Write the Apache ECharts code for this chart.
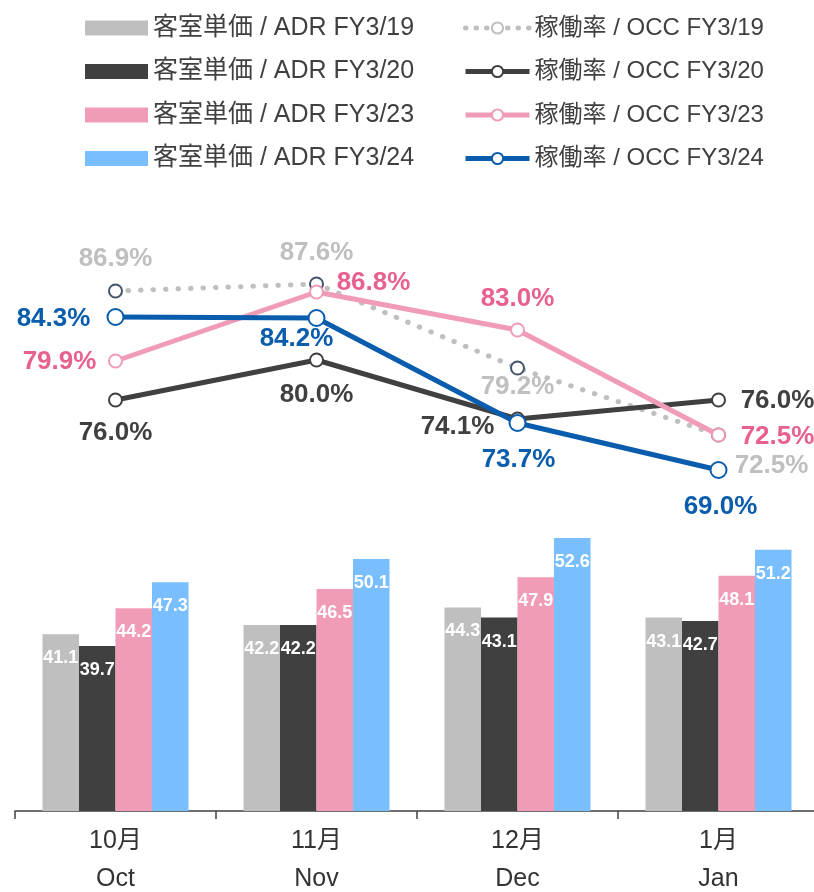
<!DOCTYPE html>
<html>
<head>
<meta charset="utf-8">
<script src="https://cdn.jsdelivr.net/npm/echarts@6/dist/echarts.min.js"></script>
<style>
html,body{margin:0;padding:0;background:#fff;}
#main{width:814px;height:892px;}
</style>
</head>
<body>
<div id="main"></div>
<script>
// months
var months = ['10月\nOct', '11月\nNov', '12月\nDec', '1月\nJan'];

// ADR (bars)
var adr19 = [41.1, 42.2, 44.3, 43.1];
var adr20 = [39.7, 42.2, 43.1, 42.7];
var adr23 = [44.2, 46.5, 47.9, 48.1];
var adr24 = [47.3, 50.1, 52.6, 51.2];

// OCC (lines, %)
var occ19 = [86.9, 87.6, 79.2, 72.5];
var occ20 = [76.0, 80.0, 74.1, 76.0];
var occ23 = [79.9, 86.8, 83.0, 72.5];
var occ24 = [84.3, 84.2, 73.7, 69.0];

var FONT = "'Liberation Sans','Noto Sans CJK JP',sans-serif";

// label offsets for each line point (from point centre)
var off19 = [[0,-32],[0,-31],[0,19],[53,31]];
var off20 = [[0,33],[0,35],[-60,8],[59,1]];
var off23 = [[-56,1],[57,-9],[0,-31],[59,2]];
var off24 = [[-62,2],[-20,21],[1,37],[2,37]];

function lineData(vals, offs, color){
  var out = [];
  for (var i = 0; i < vals.length; i++) {
    out.push({
      value: vals[i],
      label: {show:true, position:'inside', offset:offs[i], color:color,
        fontSize:26, fontWeight:'bold', fontFamily:FONT,
        formatter: function(p){ return p.value.toFixed(1) + '%'; }}
    });
  }
  return out;
}

function barSeries(name, data, color){
  return {
    name: name, type: 'bar', xAxisIndex: 0, yAxisIndex: 0,
    data: data, barWidth: 36.5, barGap: '0%',
    itemStyle: {color: color},
    label: {show:true, position:'insideTop', distance:15, color:'#fff',
      fontSize:18, fontWeight:'bold', fontFamily:FONT,
      formatter: function(p){ return p.value.toFixed(1); }}
  };
}

function lineSeries(name, data, color, width, symSize, border, z){
  return {
    name: name, type: 'line', xAxisIndex: 1, yAxisIndex: 1,
    data: data, z: z,
    symbol: 'circle', symbolSize: symSize,
    lineStyle: {color: color, width: width},
    itemStyle: {color:'#fff', borderColor: border, borderWidth: 2},
    emphasis: {disabled:true}
  };
}

var myChart = echarts.init(document.getElementById('main'));

var s19 = lineSeries('稼働率 / OCC FY3/19', lineData(occ19, off19, '#bfbfbf'), '#bfbfbf', 5, 13, '#44546a', 2);
s19.lineStyle.type = [0.5, 12];
s19.lineStyle.cap = 'round';

var option = {
  animation: false,
  textStyle: {fontFamily: FONT},
  legend: [
    {
      left: 80, top: 9, orient: 'vertical', itemWidth: 63, itemHeight: 15, itemGap: 15.5,
      icon: 'rect',
      textStyle: {fontSize: 25, lineHeight: 28, color: '#404040', fontFamily: FONT},
      data: ['客室単価 / ADR FY3/19','客室単価 / ADR FY3/20','客室単価 / ADR FY3/23','客室単価 / ADR FY3/24']
    },
    {
      left: 458, top: 9, orient: 'vertical', itemWidth: 64, itemHeight: 14, itemGap: 15.5,
      textStyle: {fontSize: 24, lineHeight: 28, color: '#404040', fontFamily: FONT},
      data: [
        {name:'稼働率 / OCC FY3/19', itemStyle:{borderColor:'#bfbfbf'},
          lineStyle:{width:5, type:[0.5, 10], cap:'round'}},
        {name:'稼働率 / OCC FY3/20', lineStyle:{width:5}},
        {name:'稼働率 / OCC FY3/23', lineStyle:{width:5}},
        {name:'稼働率 / OCC FY3/24', lineStyle:{width:5}}
      ]
    }
  ],
  grid: [
    {left: 15, width: 804, top: 476, height: 335, containLabel: false, outerBoundsMode: 'none'},
    {left: 15, width: 804, top: 160, height: 400, containLabel: false, outerBoundsMode: 'none'}
  ],
  xAxis: [
    {
      type: 'category', gridIndex: 0, data: months,
      axisLine: {show: true, lineStyle: {color: '#404040', width: 1.5}},
      axisTick: {show: true, length: 8, lineStyle: {color: '#404040', width: 1.5}},
      axisLabel: {fontSize: 25, lineHeight: 38, color: '#333', margin: 11, fontFamily: FONT}
    },
    {type: 'category', gridIndex: 1, data: months, show: false}
  ],
  yAxis: [
    {type: 'value', gridIndex: 0, min: 20, max: 60, show: false, splitLine: {show: false}},
    {type: 'value', gridIndex: 1, min: 60, max: 100, show: false, splitLine: {show: false}}
  ],
  series: [
    barSeries('客室単価 / ADR FY3/19', adr19, '#bfbfbf'),
    barSeries('客室単価 / ADR FY3/20', adr20, '#404040'),
    barSeries('客室単価 / ADR FY3/23', adr23, '#f19cb7'),
    barSeries('客室単価 / ADR FY3/24', adr24, '#79bfff'),
    s19,
    lineSeries('稼働率 / OCC FY3/20', lineData(occ20, off20, '#404040'), '#404040', 5, 13, '#404040', 3),
    lineSeries('稼働率 / OCC FY3/23', lineData(occ23, off23, '#e8608c'), '#f19cb7', 5, 13, '#f19cb7', 4),
    lineSeries('稼働率 / OCC FY3/24', lineData(occ24, off24, '#0a5cad'), '#0a5cad', 5, 16, '#0a5cad', 5)
  ]
};
myChart.setOption(option);
</script>
</body>
</html>
